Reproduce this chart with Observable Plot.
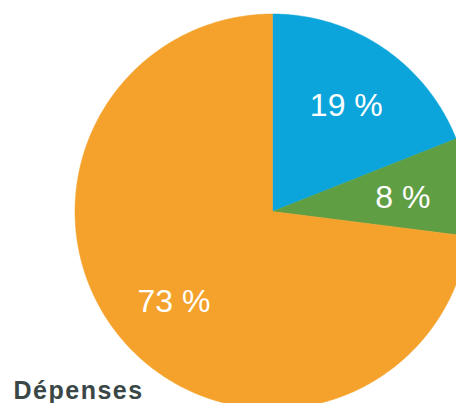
<!DOCTYPE html>
<html>
<head>
<meta charset="utf-8">
<script src="https://cdn.jsdelivr.net/npm/d3@7"></script>
<script src="https://cdn.jsdelivr.net/npm/@observablehq/plot@0.6"></script>
<style>
  html, body { margin: 0; padding: 0; background: #fff; }
  #chart { width: 456px; height: 403px; overflow: hidden; }
</style>
</head>
<body>
<div id="chart"></div>
<script>
const categories = ["Part 1", "Part 2", "Part 3"];
const values = [19, 8, 73];
const labels = ["19 %", "8 %", "73 %"];
const colors = ["#0ba5db", "#5f9e43", "#f4a22c"];
const title = "Dépenses";

const total = d3.sum(values);
const slices = [];
const labelRows = [];
let start = 0;
values.forEach((v, i) => {
  const a0 = start / total * 2 * Math.PI;
  const a1 = (start + v) / total * 2 * Math.PI;
  const n = Math.max(2, Math.ceil((a1 - a0) / (Math.PI / 360)));
  slices.push({cat: categories[i], x: 0, y: 0});
  for (let k = 0; k <= n; k++) {
    const a = a0 + (a1 - a0) * k / n;
    slices.push({cat: categories[i], x: Math.sin(a), y: Math.cos(a)});
  }
  slices.push({cat: categories[i], x: 0, y: 0});
  const am = (a0 + a1) / 2;
  const r = 0.665;
  labelRows.push({cat: categories[i], label: labels[i], x: r * Math.sin(am), y: r * Math.cos(am)});
  start += v;
});

const W = 456, H = 403, cx = 272, cy = 211, R = 197.5;
const chart = Plot.plot({
  width: W,
  height: H,
  margin: 0,
  x: {domain: [-cx / R, (W - cx) / R], axis: null},
  y: {domain: [-(H - cy) / R, cy / R], axis: null},
  color: {domain: categories, range: colors},
  style: {fontFamily: "'Liberation Sans', Arial, sans-serif", background: "#fff"},
  marks: [
    Plot.line(slices, {x: "x", y: "y", z: "cat", fill: "cat", stroke: "cat", strokeWidth: 0.5, curve: "linear", clip: true}),
    Plot.text(labelRows, {x: "x", y: "y", text: "label", fill: "#fff", fontSize: 32, fontWeight: 400, dy: 3}),
    Plot.text([title], {text: d => d, frameAnchor: "bottom-left", dx: 13, dy: -5, fill: "#3b4747", fontSize: 25, fontWeight: 700, textAnchor: "start", lineAnchor: "bottom"})
  ]
});
d3.select(chart).selectAll("text").filter(function () { return this.textContent === title; })
  .style("letter-spacing", "1.5px");
document.getElementById("chart").appendChild(chart);
</script>
</body>
</html>
